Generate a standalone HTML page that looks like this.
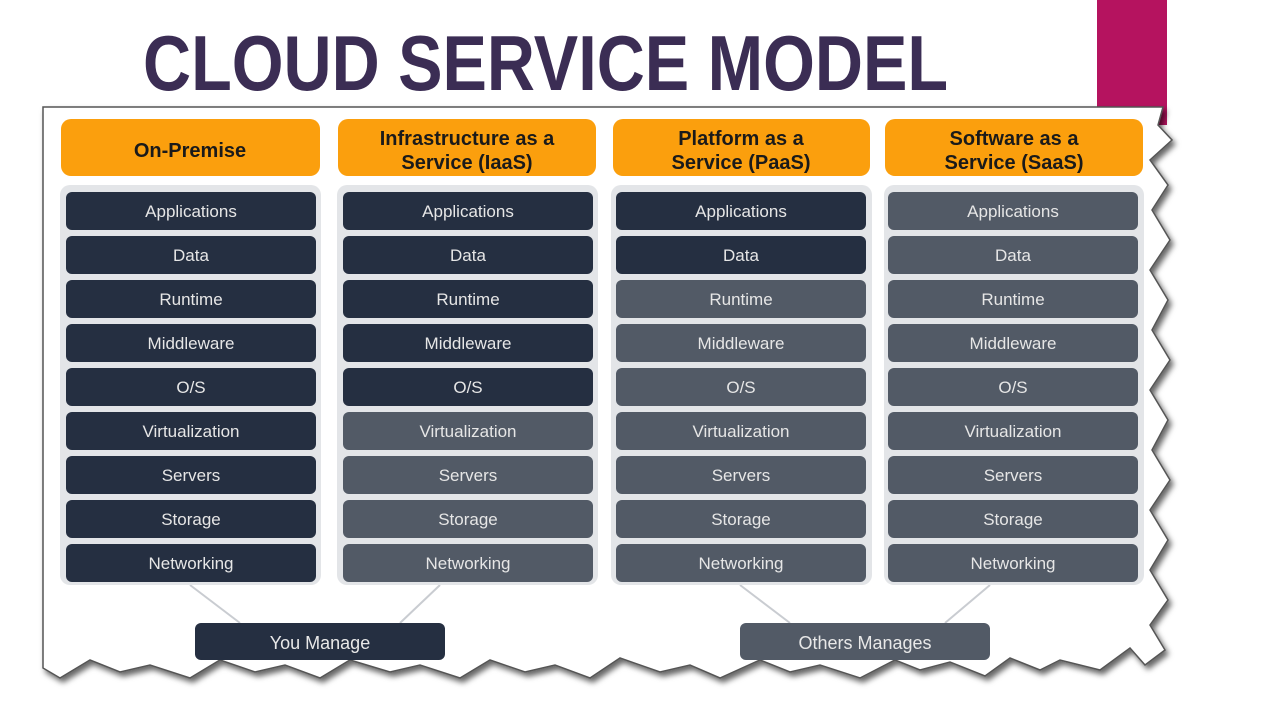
<!DOCTYPE html>
<html><head><meta charset="utf-8"><style>
html,body{margin:0;padding:0;background:#fff;}
svg{display:block}
text{font-family:"Liberation Sans",sans-serif;}
</style></head><body>
<svg width="1280" height="720" viewBox="0 0 1280 720">
<defs><filter id="sh" x="-5%" y="-5%" width="115%" height="120%"><feDropShadow dx="3" dy="4" stdDeviation="3" flood-color="#000" flood-opacity="0.6"/></filter></defs>
<rect x="1097" y="0" width="70" height="125" fill="#b5135f"/>
<text x="143" y="90" font-size="78" font-weight="bold" fill="#3b2d54" textLength="805" lengthAdjust="spacingAndGlyphs">CLOUD SERVICE MODEL</text>
<polygon filter="url(#sh)" fill="#fff" stroke="#555" stroke-width="1.5" points="43,107 1163,107 1158,125 1172,140 1150,160 1168,185 1152,210 1170,240 1150,270 1168,300 1152,330 1170,360 1150,390 1168,420 1152,450 1170,480 1150,510 1168,540 1150,570 1168,600 1150,625 1165,650 1145,665 1130,648 1100,670 1060,660 1040,670 1010,658 985,676 950,662 920,670 895,660 860,678 820,665 790,672 760,660 720,678 690,665 660,672 620,658 590,678 555,665 525,672 490,660 460,678 420,665 390,672 350,660 320,678 285,665 255,672 220,660 190,678 150,665 120,672 90,660 60,678 43,668"/>
<g stroke="#c9ccd1" stroke-width="2">
<line x1="190" y1="585" x2="240" y2="623"/><line x1="440" y1="585" x2="400" y2="623"/>
<line x1="740" y1="585" x2="790" y2="623"/><line x1="990" y1="585" x2="945" y2="623"/>
</g>
<rect x="195" y="623" width="250" height="37" rx="6" fill="#252f41"/>
<text x="320" y="649" font-size="18" fill="#e8e8e8" text-anchor="middle">You Manage</text>
<rect x="740" y="623" width="250" height="37" rx="6" fill="#525a66"/>
<text x="865" y="649" font-size="18" fill="#e8e8e8" text-anchor="middle">Others Manages</text>
<g font-weight="bold" font-size="20" fill="#1a1a1a" text-anchor="middle">
<rect x="61" y="119" width="259" height="57" rx="10" fill="#fb9f0d"/>
<text x="190" y="157">On-Premise</text>
<rect x="338" y="119" width="258" height="57" rx="10" fill="#fb9f0d"/>
<text x="467" y="145">Infrastructure as a</text><text x="467" y="169">Service (IaaS)</text>
<rect x="613" y="119" width="257" height="57" rx="10" fill="#fb9f0d"/>
<text x="741" y="145">Platform as a</text><text x="741" y="169">Service (PaaS)</text>
<rect x="885" y="119" width="258" height="57" rx="10" fill="#fb9f0d"/>
<text x="1014" y="145">Software as a</text><text x="1014" y="169">Service (SaaS)</text>
</g>
<g fill="#e3e5e8">
<rect x="60" y="185" width="261" height="400" rx="10"/>
<rect x="337" y="185" width="261" height="400" rx="10"/>
<rect x="611" y="185" width="261" height="400" rx="10"/>
<rect x="884" y="185" width="260" height="400" rx="10"/>
</g>
<g font-size="17" fill="#e6e6e6" text-anchor="middle">
<rect x="66" y="192" width="250" height="38" rx="6" fill="#252f41"/><text x="191" y="217">Applications</text>
<rect x="66" y="236" width="250" height="38" rx="6" fill="#252f41"/><text x="191" y="261">Data</text>
<rect x="66" y="280" width="250" height="38" rx="6" fill="#252f41"/><text x="191" y="305">Runtime</text>
<rect x="66" y="324" width="250" height="38" rx="6" fill="#252f41"/><text x="191" y="349">Middleware</text>
<rect x="66" y="368" width="250" height="38" rx="6" fill="#252f41"/><text x="191" y="393">O/S</text>
<rect x="66" y="412" width="250" height="38" rx="6" fill="#252f41"/><text x="191" y="437">Virtualization</text>
<rect x="66" y="456" width="250" height="38" rx="6" fill="#252f41"/><text x="191" y="481">Servers</text>
<rect x="66" y="500" width="250" height="38" rx="6" fill="#252f41"/><text x="191" y="525">Storage</text>
<rect x="66" y="544" width="250" height="38" rx="6" fill="#252f41"/><text x="191" y="569">Networking</text>
<rect x="343" y="192" width="250" height="38" rx="6" fill="#252f41"/><text x="468" y="217">Applications</text>
<rect x="343" y="236" width="250" height="38" rx="6" fill="#252f41"/><text x="468" y="261">Data</text>
<rect x="343" y="280" width="250" height="38" rx="6" fill="#252f41"/><text x="468" y="305">Runtime</text>
<rect x="343" y="324" width="250" height="38" rx="6" fill="#252f41"/><text x="468" y="349">Middleware</text>
<rect x="343" y="368" width="250" height="38" rx="6" fill="#252f41"/><text x="468" y="393">O/S</text>
<rect x="343" y="412" width="250" height="38" rx="6" fill="#525a66"/><text x="468" y="437">Virtualization</text>
<rect x="343" y="456" width="250" height="38" rx="6" fill="#525a66"/><text x="468" y="481">Servers</text>
<rect x="343" y="500" width="250" height="38" rx="6" fill="#525a66"/><text x="468" y="525">Storage</text>
<rect x="343" y="544" width="250" height="38" rx="6" fill="#525a66"/><text x="468" y="569">Networking</text>
<rect x="616" y="192" width="250" height="38" rx="6" fill="#252f41"/><text x="741" y="217">Applications</text>
<rect x="616" y="236" width="250" height="38" rx="6" fill="#252f41"/><text x="741" y="261">Data</text>
<rect x="616" y="280" width="250" height="38" rx="6" fill="#525a66"/><text x="741" y="305">Runtime</text>
<rect x="616" y="324" width="250" height="38" rx="6" fill="#525a66"/><text x="741" y="349">Middleware</text>
<rect x="616" y="368" width="250" height="38" rx="6" fill="#525a66"/><text x="741" y="393">O/S</text>
<rect x="616" y="412" width="250" height="38" rx="6" fill="#525a66"/><text x="741" y="437">Virtualization</text>
<rect x="616" y="456" width="250" height="38" rx="6" fill="#525a66"/><text x="741" y="481">Servers</text>
<rect x="616" y="500" width="250" height="38" rx="6" fill="#525a66"/><text x="741" y="525">Storage</text>
<rect x="616" y="544" width="250" height="38" rx="6" fill="#525a66"/><text x="741" y="569">Networking</text>
<rect x="888" y="192" width="250" height="38" rx="6" fill="#525a66"/><text x="1013" y="217">Applications</text>
<rect x="888" y="236" width="250" height="38" rx="6" fill="#525a66"/><text x="1013" y="261">Data</text>
<rect x="888" y="280" width="250" height="38" rx="6" fill="#525a66"/><text x="1013" y="305">Runtime</text>
<rect x="888" y="324" width="250" height="38" rx="6" fill="#525a66"/><text x="1013" y="349">Middleware</text>
<rect x="888" y="368" width="250" height="38" rx="6" fill="#525a66"/><text x="1013" y="393">O/S</text>
<rect x="888" y="412" width="250" height="38" rx="6" fill="#525a66"/><text x="1013" y="437">Virtualization</text>
<rect x="888" y="456" width="250" height="38" rx="6" fill="#525a66"/><text x="1013" y="481">Servers</text>
<rect x="888" y="500" width="250" height="38" rx="6" fill="#525a66"/><text x="1013" y="525">Storage</text>
<rect x="888" y="544" width="250" height="38" rx="6" fill="#525a66"/><text x="1013" y="569">Networking</text>
</g>
</svg>
</body></html>
